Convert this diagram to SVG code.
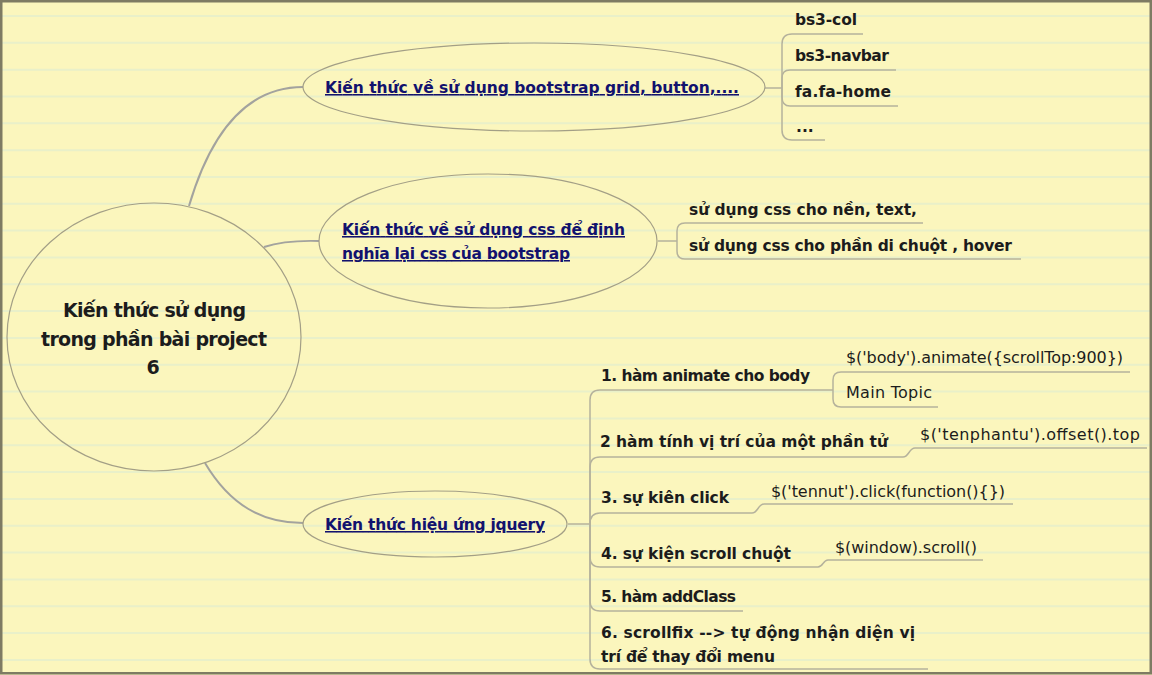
<svg xmlns="http://www.w3.org/2000/svg" width="1152" height="675" viewBox="0 0 1152 675">
<style>
.bg{fill:#fbf6bd}
.rule{stroke:#e9f0c9;stroke-width:2;fill:none}
.frame{fill:none;stroke:#7e7b63;stroke-width:2.5}
.oval{fill:none;stroke:#a39f86;stroke-width:1.2}
.main{fill:none;stroke:#a3a39e;stroke-width:2}
.sub{fill:none;stroke:#b5b29c;stroke-width:1.5}
.t{font-family:"DejaVu Sans","Liberation Sans",sans-serif;font-weight:bold;font-size:15.5px;fill:#1c1c1c}
.c{font-family:"DejaVu Sans","Liberation Sans",sans-serif;font-size:16px;fill:#1c1c1c}
.b{font-family:"DejaVu Sans","Liberation Sans",sans-serif;font-weight:bold;font-size:15.5px;fill:#12126e;text-decoration:underline}
.ctr{font-family:"DejaVu Sans","Liberation Sans",sans-serif;font-weight:bold;font-size:19px;fill:#1c1c1c;text-anchor:middle}
</style>
<rect class="bg" x="0" y="0" width="1152" height="675"/>
<path class="rule" d="M2,16H1150M2,42.8H1150M2,69.7H1150M2,96.5H1150M2,123.3H1150M2,150.2H1150M2,177H1150M2,203.8H1150M2,230.6H1150M2,257.5H1150M2,284.3H1150M2,311.1H1150M2,338H1150M2,364.8H1150M2,391.6H1150M2,418.5H1150M2,445.3H1150M2,472.1H1150M2,499H1150M2,525.8H1150M2,552.6H1150M2,579.5H1150M2,606.3H1150M2,633.1H1150M2,660H1150"/>
<rect class="frame" x="1.25" y="1.25" width="1149.5" height="672"/>

<g id="connectors">
<path class="main" d="M189,206 C212,128 250,87 303,87"/>
<path class="main" d="M264,247 Q285,240 319,241"/>
<path class="main" d="M205,463 C230,505 262,523 303,523"/>
<path class="sub" d="M765,88 H782"/>
<path class="sub" d="M782,88 V44 Q782,34 792,34 H863"/>
<path class="sub" d="M782,88 V78 Q782,70 790,70 H896"/>
<path class="sub" d="M782,88 V97 Q782,106 790,106 H898"/>
<path class="sub" d="M782,88 V130 Q782,140 792,140 H825"/>
<path class="sub" d="M658,241 H677"/>
<path class="sub" d="M677,241 V231 Q677,223 685,223 H923"/>
<path class="sub" d="M677,241 V251 Q677,259 685,259 H1021"/>
<path class="sub" d="M568,524 H590"/>
<path class="sub" d="M590,524 V400 Q590,390 600,390 H833"/>
<path class="sub" d="M833,390 V380 Q833,372 841,372 H1130"/>
<path class="sub" d="M833,390 V399 Q833,407 841,407 H938"/>
<path class="sub" d="M590,524 V467 Q590,457 600,457 H903 C909,457 909,448 915,448 H1147"/>
<path class="sub" d="M590,524 Q590,513 600,513 H752 C758,513 758,504 764,504 H1013"/>
<path class="sub" d="M590,524 V557 Q590,567 600,567 H818 C823,567 823,560 828,560 H983"/>
<path class="sub" d="M590,524 V601 Q590,611 600,611 H743"/>
<path class="sub" d="M590,524 V659 Q590,669 600,669 H928"/>
</g>

<g id="central">
<ellipse class="oval" cx="154" cy="337" rx="147" ry="134"/>
<text class="ctr" x="154.5" y="317" textLength="183">Kiến thức sử dụng</text>
<text class="ctr" x="154" y="346" textLength="226">trong phần bài project</text>
<text class="ctr" x="153" y="374">6</text>
</g>

<g id="topic-bootstrap">
<ellipse class="oval" cx="534" cy="87" rx="231" ry="44"/>
<text class="b" x="325" y="93" textLength="414">Kiến thức về sử dụng bootstrap grid, button,....</text>
</g>
<g id="leaf-bs3-col"><text class="t" x="795" y="25" textLength="62">bs3-col</text></g>
<g id="leaf-bs3-navbar"><text class="t" x="795" y="61" textLength="94">bs3-navbar</text></g>
<g id="leaf-fa-home"><text class="t" x="795" y="97" textLength="96">fa.fa-home</text></g>
<g id="leaf-dots"><text class="t" x="796" y="132">...</text></g>

<g id="topic-css">
<ellipse class="oval" cx="488" cy="241" rx="169" ry="67"/>
<text class="b" x="342" y="235" textLength="283">Kiến thức về sử dụng css để định</text>
<text class="b" x="342" y="259" textLength="228">nghĩa lại css của bootstrap</text>
</g>
<g id="leaf-css-bg"><text class="t" x="689" y="215" textLength="228">sử dụng css cho nền, text,</text></g>
<g id="leaf-css-hover"><text class="t" x="689" y="251" textLength="323">sử dụng css cho phần di chuột , hover</text></g>

<g id="topic-jquery">
<ellipse class="oval" cx="435" cy="524" rx="132" ry="33"/>
<text class="b" x="325" y="530" textLength="220">Kiến thức hiệu ứng jquery</text>
</g>
<g id="item-animate"><text class="t" x="601" y="381" textLength="209">1. hàm animate cho body</text></g>
<g id="leaf-animate-code"><text class="c" x="846" y="363" textLength="277">$('body').animate({scrollTop:900})</text></g>
<g id="leaf-main-topic"><text class="c" x="846" y="398" textLength="86">Main Topic</text></g>
<g id="item-offset"><text class="t" x="600" y="447" textLength="288">2 hàm tính vị trí của một phần tử</text></g>
<g id="leaf-offset-code"><text class="c" x="920" y="440" textLength="220">$('tenphantu').offset().top</text></g>
<g id="item-click"><text class="t" x="601" y="503" textLength="128">3. sự kiên click</text></g>
<g id="leaf-click-code"><text class="c" x="771" y="497" textLength="234">$('tennut').click(function(){})</text></g>
<g id="item-scroll"><text class="t" x="601" y="559" textLength="190">4. sự kiện scroll chuột</text></g>
<g id="leaf-scroll-code"><text class="c" x="835" y="553" textLength="142">$(window).scroll()</text></g>
<g id="item-addclass"><text class="t" x="601" y="602" textLength="135">5. hàm addClass</text></g>
<g id="item-scrollfix">
<text class="t" x="601" y="638" textLength="314">6. scrollfix --&gt; tự động nhận diện vị</text>
<text class="t" x="601" y="662" textLength="174">trí để thay đổi menu</text>
</g>
</svg>
